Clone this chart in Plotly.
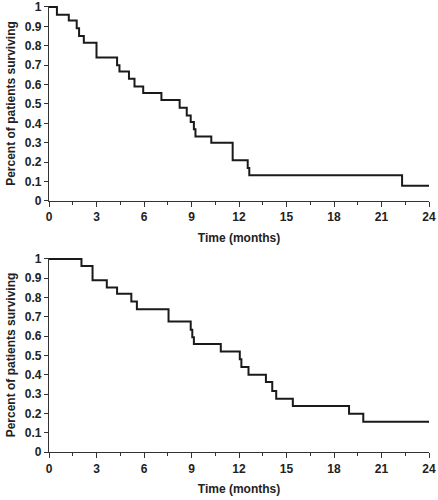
import plotly.graph_objects as go
from plotly.subplots import make_subplots

# Top panel: Kaplan-Meier survival curve
top_time = [0, 0.5, 1.25, 1.75, 1.9, 2.2, 3.0, 4.3, 4.45, 5.05, 5.4, 5.95, 7.1, 8.25, 8.7, 8.95, 9.15, 9.25, 10.25, 11.6, 12.55, 12.65, 22.3, 24]
top_surv = [1.0, 0.96, 0.93, 0.89, 0.85, 0.815, 0.74, 0.70, 0.667, 0.63, 0.59, 0.556, 0.52, 0.48, 0.44, 0.407, 0.37, 0.333, 0.30, 0.21, 0.17, 0.133, 0.078, 0.078]

# Bottom panel
bot_time = [0, 2.05, 2.75, 3.65, 4.3, 5.2, 5.55, 7.55, 8.95, 9.05, 9.15, 10.85, 12.05, 12.15, 12.6, 13.7, 14.1, 14.35, 15.4, 18.95, 19.85, 24]
bot_surv = [1.0, 0.963, 0.89, 0.852, 0.82, 0.78, 0.74, 0.676, 0.633, 0.595, 0.56, 0.52, 0.48, 0.44, 0.40, 0.363, 0.316, 0.276, 0.238, 0.198, 0.157, 0.157]

x_ticks = [0, 3, 6, 9, 12, 15, 18, 21, 24]
y_ticks = [0, 0.1, 0.2, 0.3, 0.4, 0.5, 0.6, 0.7, 0.8, 0.9, 1.0]
y_labels = ["0", "0.1", "0.2", "0.3", "0.4", "0.5", "0.6", "0.7", "0.8", "0.9", "1"]

fig = make_subplots(rows=2, cols=1, vertical_spacing=0.13)

line_style = dict(color="#1a1a1a", width=2, shape="hv")
fig.add_trace(go.Scatter(x=top_time, y=top_surv, mode="lines", line=line_style, showlegend=False, hoverinfo="skip"), row=1, col=1)
fig.add_trace(go.Scatter(x=bot_time, y=bot_surv, mode="lines", line=line_style, showlegend=False, hoverinfo="skip"), row=2, col=1)

font_family = "Liberation Sans, Arial, sans-serif"
tickfont = dict(family=font_family, size=12, color="#222", weight="bold")
titlefont = dict(family=font_family, size=12, color="#222", weight="bold")

for r in (1, 2):
    fig.update_xaxes(
        row=r, col=1, range=[0, 24], tickvals=x_ticks, ticktext=[str(v) for v in x_ticks],
        showline=True, linecolor="#333", linewidth=1.2, ticks="outside", ticklen=5,
        tickcolor="#333", tickwidth=1.2, showgrid=False, zeroline=False, automargin=False,
        tickfont=tickfont, title=dict(text="Time (months)", font=titlefont, standoff=10),
        minor=dict(dtick=1.5, tick0=0, ticks="outside", ticklen=3, tickcolor="#333", tickwidth=1),
    )
    fig.update_yaxes(
        row=r, col=1, range=[0, 1.005], tickvals=y_ticks, ticktext=y_labels,
        showline=True, linecolor="#333", linewidth=1.2, ticks="outside", ticklen=4,
        tickcolor="#333", tickwidth=1.2, showgrid=False, zeroline=False, automargin=False,
        tickfont=tickfont, title=dict(text="Percent of patients surviving", font=titlefont, standoff=6),
    )

fig.update_layout(
    width=438, height=500,
    margin=dict(l=49, r=9, t=6, b=48),
    paper_bgcolor="white", plot_bgcolor="white",
)
fig.update_layout(
    yaxis=dict(domain=[0.5628, 1.0]),
    yaxis2=dict(domain=[0.0, 0.435]),
)

fig.write_html("out.html", config={"displayModeBar": False},
               post_script="document.body.style.margin='0px';")
